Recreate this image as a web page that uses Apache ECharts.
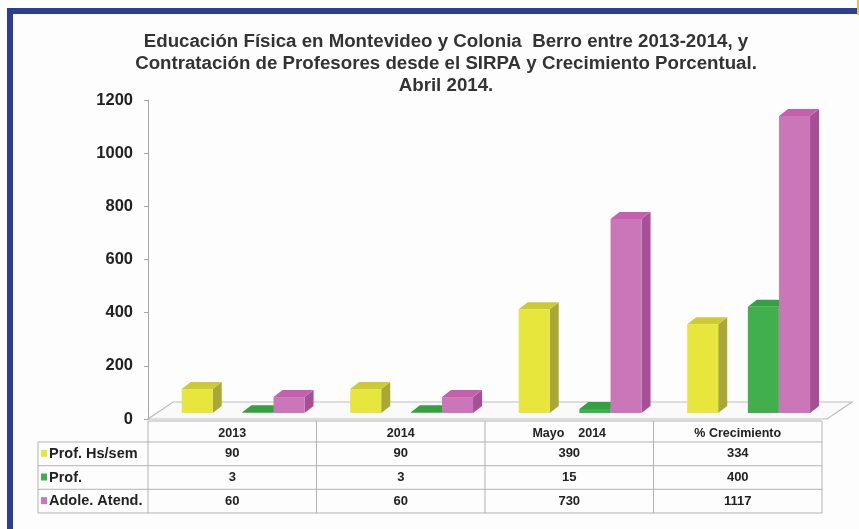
<!DOCTYPE html>
<html>
<head>
<meta charset="utf-8">
<script src="https://cdn.jsdelivr.net/npm/echarts@6/dist/echarts.min.js"></script>
<style>
  html, body { margin: 0; padding: 0; background: #fff; }
  #main { width: 859px; height: 529px; }
</style>
</head>
<body>
<div id="main"></div>
<script>
// data
const categories = ['2013', '2014', 'Mayo    2014', '% Crecimiento'];
const seriesNames = ['Prof. Hs/sem', 'Prof.', 'Adole. Atend.'];
const profHsSem = [90, 90, 390, 334];
const prof = [3, 3, 15, 400];
const adoleAtend = [60, 60, 730, 1117];
const yMax = 1200;
const yStep = 200;

const allValues = [profHsSem, prof, adoleAtend];

// bar looks: front / side / top face
const palette = [
  { front: '#e6e63c', side: '#a9a735', top: '#cccb36' },
  { front: '#41b04c', side: '#2d8a39', top: '#35a042' },
  { front: '#cc76ba', side: '#a64f97', top: '#c460ad' }
];
const barLeft = [-0.30, 0.06, 0.245]; // front face left edge, fraction of band from its centre
const barWidth = 0.184;
const lift = 6;       // bars stand a bit inside the floor
const depthX = 9, depthY = -7;

const GRID = { left: 148, right: 37, top: 100, bottom: 110 };
const FONT = 'Liberation Sans, Arial, sans-serif';

function makeRender(idx) {
  const c = palette[idx];
  return function (params, api) {
    const cat = api.value(0);
    const val = api.value(1);
    const base = api.coord([cat, 0]);
    const top = api.coord([cat, val]);
    const band = api.size([1, 0])[0];
    const x0 = base[0] + barLeft[idx] * band;
    const x1 = x0 + barWidth * band;
    const yb = base[1] - lift;
    const yt = top[1] - lift;
    return {
      type: 'group',
      children: [
        { type: 'polygon', shape: { points: [[x1, yt], [x1 + depthX, yt + depthY], [x1 + depthX, yb + depthY], [x1, yb]] },
          style: { fill: c.side } },
        { type: 'polygon', shape: { points: [[x0, yt], [x0 + depthX, yt + depthY], [x1 + depthX, yt + depthY], [x1, yt]] },
          style: { fill: c.top } },
        { type: 'rect', shape: { x: x0, y: yt, width: x1 - x0, height: yb - yt },
          style: { fill: c.front } }
      ]
    };
  };
}

const chart = echarts.init(document.getElementById('main'));

// frame, floor and data table
const W = 859 - GRID.left - GRID.right;
const colW = W / categories.length;
const tLeft = 38, tHead = 421, tRows = [442, 465.7, 489.3, 513];
const lineStyle = { stroke: '#b3b3b3', lineWidth: 1 };
const graphics = [
  { type: 'rect', shape: { x: 7, y: 8, width: 852, height: 521 }, style: { fill: '#fdfdfd' }, z: -10 },
  { type: 'rect', shape: { x: 7, y: 8, width: 850, height: 6 }, style: { fill: '#2c3f95' } },
  { type: 'rect', shape: { x: 7, y: 8, width: 6, height: 521 }, style: { fill: '#2c3f95' } },
  { type: 'rect', shape: { x: 857, y: 0, width: 2, height: 15 }, style: { fill: '#e3c24a' } },
  // floor
  { type: 'polygon', z: -1,
    shape: { points: [[GRID.left, 419], [GRID.left + W + 5, 419], [GRID.left + W + 30, 402], [GRID.left + 25, 402]] },
    style: { fill: '#fafafa', stroke: '#bdbdbd', lineWidth: 1.2 } }
];
// table lines
graphics.push({ type: 'line', shape: { x1: GRID.left, y1: tHead, x2: GRID.left + W, y2: tHead }, style: lineStyle });
tRows.forEach(y => graphics.push({ type: 'line', shape: { x1: tLeft, y1: y, x2: GRID.left + W, y2: y }, style: lineStyle }));
graphics.push({ type: 'line', shape: { x1: tLeft, y1: tRows[0], x2: tLeft, y2: tRows[3] }, style: lineStyle });
for (let i = 0; i <= categories.length; i++) {
  const x = GRID.left + i * colW;
  graphics.push({ type: 'line', shape: { x1: x, y1: tHead, x2: x, y2: tRows[3] }, style: lineStyle });
}
// row headers + values
seriesNames.forEach((name, r) => {
  const yc = (tRows[r] + tRows[r + 1]) / 2;
  graphics.push({ type: 'rect', shape: { x: 41, y: yc - 4, width: 6, height: 7 }, style: { fill: palette[r].front } });
  graphics.push({ type: 'text', x: 49, y: yc, style: {
    text: name, font: 'bold 14.5px ' + FONT, fill: '#222', verticalAlign: 'middle', align: 'left' } });
  allValues[r].forEach((v, ci) => {
    graphics.push({ type: 'text', x: GRID.left + (ci + 0.5) * colW, y: yc, style: {
      text: String(v), font: 'bold 13px ' + FONT, fill: '#222', verticalAlign: 'middle', align: 'center' } });
  });
});

const option = {
  backgroundColor: '#fff',
  animation: false,
  title: {
    text: 'Educación Física en Montevideo y Colonia  Berro entre 2013-2014, y\nContratación de Profesores desde el SIRPA y Crecimiento Porcentual.\nAbril 2014.',
    left: 441,
    textAlign: 'center',
    top: 26,
    textStyle: { fontFamily: FONT, fontSize: 18.7, fontWeight: 'bold', color: '#333', lineHeight: 22 }
  },
  grid: GRID,
  xAxis: {
    type: 'category',
    data: categories,
    axisLine: { show: false },
    axisTick: { show: false },
    axisLabel: { margin: 8, fontFamily: FONT, fontSize: 12.5, fontWeight: 'bold', color: '#222' }
  },
  yAxis: {
    type: 'value',
    min: 0,
    max: yMax,
    interval: yStep,
    splitLine: { show: false },
    axisLine: { show: true, lineStyle: { color: '#a6a6a6' } },
    axisTick: { show: true, length: 4, lineStyle: { color: '#a6a6a6' } },
    axisLabel: { margin: 15, fontFamily: FONT, fontSize: 16.5, fontWeight: 'bold', color: '#222',
      formatter: v => String(v) }
  },
  series: allValues.map((vals, i) => ({
    name: seriesNames[i],
    type: 'custom',
    renderItem: makeRender(i),
    encode: { x: 0, y: 1 },
    data: vals.map((v, ci) => [ci, v]),
    z: 2 + i
  })),
  graphic: graphics
};

chart.setOption(option);
</script>
</body>
</html>
